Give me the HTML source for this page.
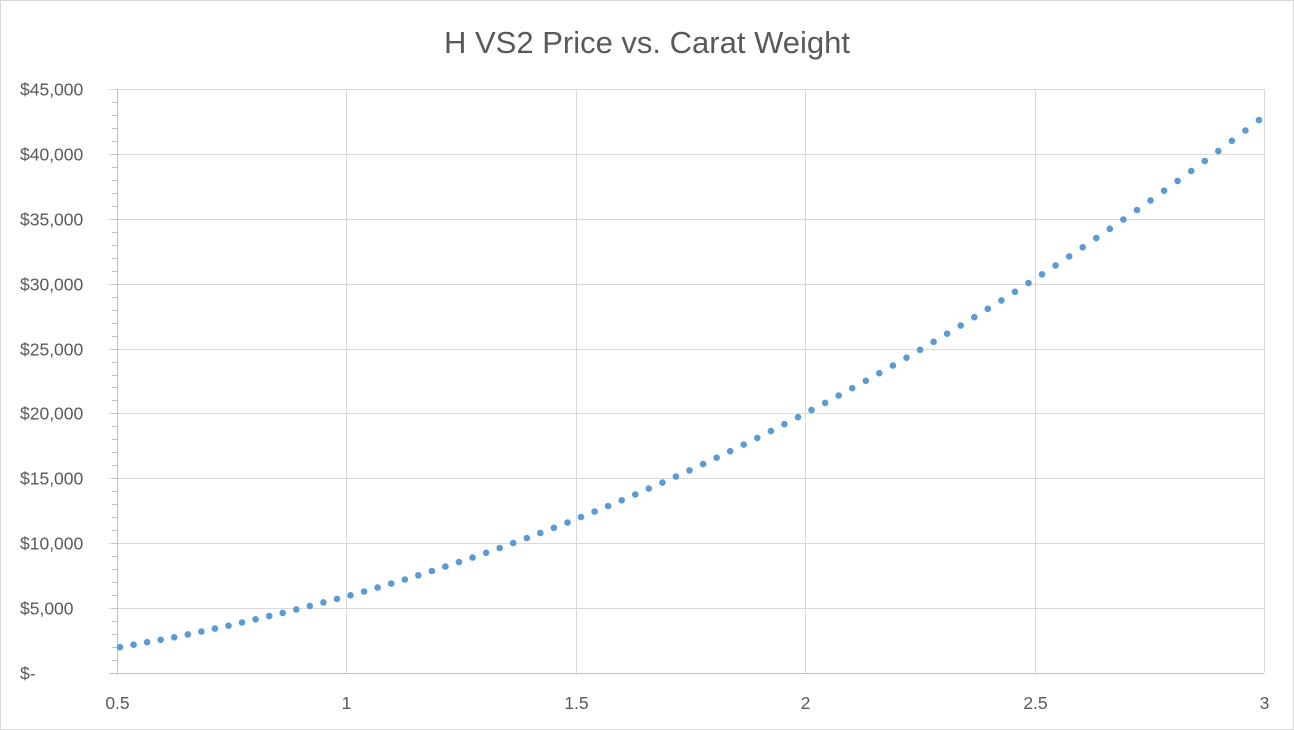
<!DOCTYPE html>
<html><head><style>
body{margin:0;background:#fff;}
svg{display:block;font-family:"Liberation Sans",sans-serif;}
</style></head><body>
<svg width="1294" height="730" xmlns="http://www.w3.org/2000/svg">
<rect x="0.5" y="0.5" width="1293" height="729" fill="#fff" stroke="#d9d9d9"/>
<text x="647" y="53" font-size="31" fill="#595959" text-anchor="middle">H VS2 Price vs. Carat Weight</text>
<g id="grid" stroke="#d9d9d9" stroke-width="1"></g>
<g id="labels" fill="#595959" font-size="17.5"></g>
<g id="dots" fill="#5b9bd5"></g>
</svg>
<script>
var ns="http://www.w3.org/2000/svg";
function el(p,t,a,txt){var e=document.createElementNS(ns,t);for(var k in a)e.setAttribute(k,a[k]);if(txt)e.textContent=txt;document.getElementById(p).appendChild(e);}
var x0=117,x1=1264,y0=673,y1=89;
function X(c){return x0+(c-0.5)/2.5*(x1-x0);}
function Y(v){return y0-v/45000*(y0-y1);}
for(var i=0;i<=9;i++){var y=Math.round(Y(i*5000))+0.5;
 el("grid","line",{x1:109,x2:x1,y1:y,y2:y,stroke:i==0?"#bfbfbf":"#d9d9d9"});
 var lab=i==0?"$-":"$"+(i*5)+",000";
 el("labels","text",{x:20,y:y+6},lab);
}
for(var i=0;i<45;i++){var y=Math.round(Y(i*1000))+0.5;el("grid","line",{x1:112,x2:117,y1:y,y2:y,stroke:"#bfbfbf"});}
var xs=[0.5,1,1.5,2,2.5,3];
for(var i=0;i<xs.length;i++){var x=Math.round(X(xs[i]))+0.5;
 el("grid","line",{x1:x,x2:x,y1:y1,y2:y0,stroke:i==0?"#bfbfbf":"#d9d9d9"});
 el("labels","text",{x:x,y:709,"text-anchor":"middle"},String(xs[i]));
}
function q(c){return 4400*c*c+900*c+600;}
var px=[0.5,0.625,0.75,0.875,1,1.25,1.5,1.75,2,2.25,2.5,2.75,3];
var py=[1950,2750,3700,4750,5900,q(1.25),q(1.5),q(1.75),q(2),q(2.25),q(2.5),q(2.75),q(3)];
function f(c){for(var i=0;i<px.length-1;i++){if(c<=px[i+1]){
 var t=(c-px[i])/(px[i+1]-px[i]);
 return py[i]+(py[i+1]-py[i])*t;}}return py[py.length-1];}
function g(c){return c>=1?q(c):f(c);}
for(var k=0;k<85;k++){var x=120+k*1139/84;var c=0.5+(x-x0)/(x1-x0)*2.5;
 el("dots","circle",{cx:x.toFixed(1),cy:Y(g(c)).toFixed(1),r:3.3});}
</script>
</body></html>
